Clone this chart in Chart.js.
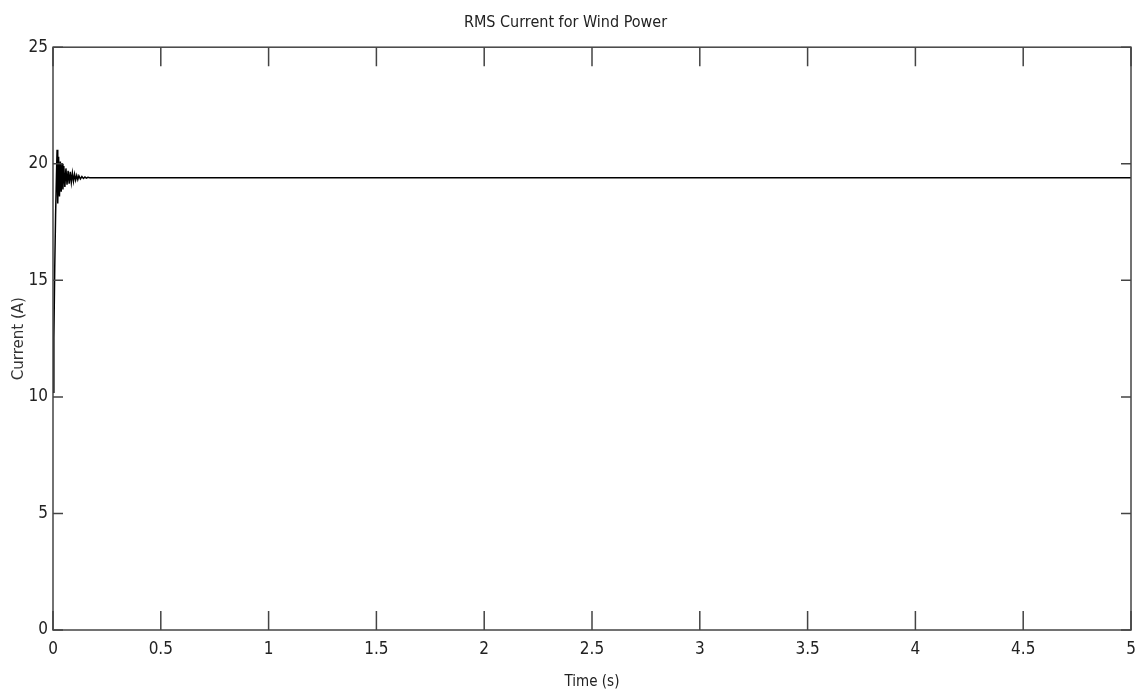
<!DOCTYPE html>
<html>
<head>
<meta charset="utf-8">
<script src="https://cdn.jsdelivr.net/npm/chart.js@4"></script>
<style>
  html, body { margin: 0; padding: 0; background: #fff; }
  #wrap { width: 1144px; height: 696px; }
</style>
</head>
<body>
<div id="wrap"><canvas id="rmsChart"></canvas></div>
<script>
// RMS current transient
const timeVals = [0, 0.004, 0.008, 0.012, 0.016, 0.019, 0.022, 0.026, 0.030, 0.034,
  0.038, 0.042, 0.046, 0.050, 0.055, 0.060, 0.065, 0.070, 0.075, 0.080,
  0.085, 0.090, 0.095, 0.100, 0.105, 0.110, 0.115, 0.120, 0.127, 0.134,
  0.141, 0.148, 0.155, 0.162, 0.170, 5];
const currentVals = [10.2, 12.5, 15.5, 17.8, 19.5, 20.6, 18.3, 20.3, 18.6, 20.1,
  18.8, 20.0, 18.9, 19.9, 19.0, 19.8, 19.1, 19.7, 19.15, 19.65,
  19.2, 19.6, 19.25, 19.55, 19.3, 19.5, 19.32, 19.48, 19.35, 19.45,
  19.37, 19.43, 19.38, 19.42, 19.4, 19.4];

const narrow = '"Liberation Sans Narrow", "DejaVu Sans Condensed", "Arial Narrow", sans-serif';

// matlab style box with inward ticks on all four sides
const frameTicks = {
  id: 'frameTicks',
  afterDatasetsDraw(chart) {
    const { ctx, chartArea: a, scales: { x, y } } = chart;
    ctx.save();
    ctx.strokeStyle = '#444';
    ctx.lineWidth = 1.5;
    ctx.strokeRect(a.left, a.top, a.right - a.left, a.bottom - a.top);
    ctx.beginPath();
    x.ticks.forEach(t => {
      const px = x.getPixelForValue(t.value);
      ctx.moveTo(px, a.bottom); ctx.lineTo(px, a.bottom - 19);
      ctx.moveTo(px, a.top); ctx.lineTo(px, a.top + 19);
    });
    y.ticks.forEach(t => {
      const py = y.getPixelForValue(t.value);
      ctx.moveTo(a.left, py); ctx.lineTo(a.left + 10, py);
      ctx.moveTo(a.right, py); ctx.lineTo(a.right - 10, py);
    });
    ctx.stroke();
    ctx.restore();
  }
};

new Chart(document.getElementById('rmsChart'), {
  type: 'line',
  data: {
    datasets: [{
      data: timeVals.map((t, i) => ({ x: t, y: currentVals[i] })),
      borderColor: '#000',
      borderWidth: 1.5,
      pointRadius: 0,
      tension: 0,
      fill: false
    }]
  },
  options: {
    responsive: true,
    maintainAspectRatio: false,
    animation: false,
    layout: { padding: { left: 0, right: 13, top: 0, bottom: 0 } },
    plugins: {
      legend: { display: false },
      tooltip: { enabled: false },
      title: {
        display: true,
        text: 'RMS Current for Wind Power',
        color: '#222',
        font: { family: narrow, size: 16, weight: 'normal' },
        padding: { top: 13, bottom: 15 }
      }
    },
    scales: {
      x: {
        type: 'linear',
        min: 0,
        max: 5,
        grid: { display: false, drawTicks: false },
        border: { display: false },
        ticks: { stepSize: 0.5, color: '#222', padding: 9, maxRotation: 0,
          font: { family: narrow, size: 17 },
          callback: v => String(Math.round(v * 10) / 10) },
        title: { display: true, text: 'Time (s)', color: '#222',
          font: { family: narrow, size: 15 }, padding: { top: 0, bottom: 5 } },
        afterFit(scale) {
          scale.height = 66;
          scale.paddingLeft = 0;
          scale.paddingRight = 0;
        }
      },
      y: {
        min: 0,
        max: 25,
        grid: { display: false, drawTicks: false },
        border: { display: false },
        ticks: { stepSize: 5, color: '#222', padding: 5,
          font: { family: narrow, size: 17 } },
        title: { display: true, text: 'Current (A)', color: '#333',
          font: { family: '"DejaVu Sans", sans-serif', size: 15 }, padding: { top: 10, bottom: 0 } },
        afterFit(scale) { scale.width = 53; }
      }
    }
  },
  plugins: [frameTicks]
});
</script>
</body>
</html>
